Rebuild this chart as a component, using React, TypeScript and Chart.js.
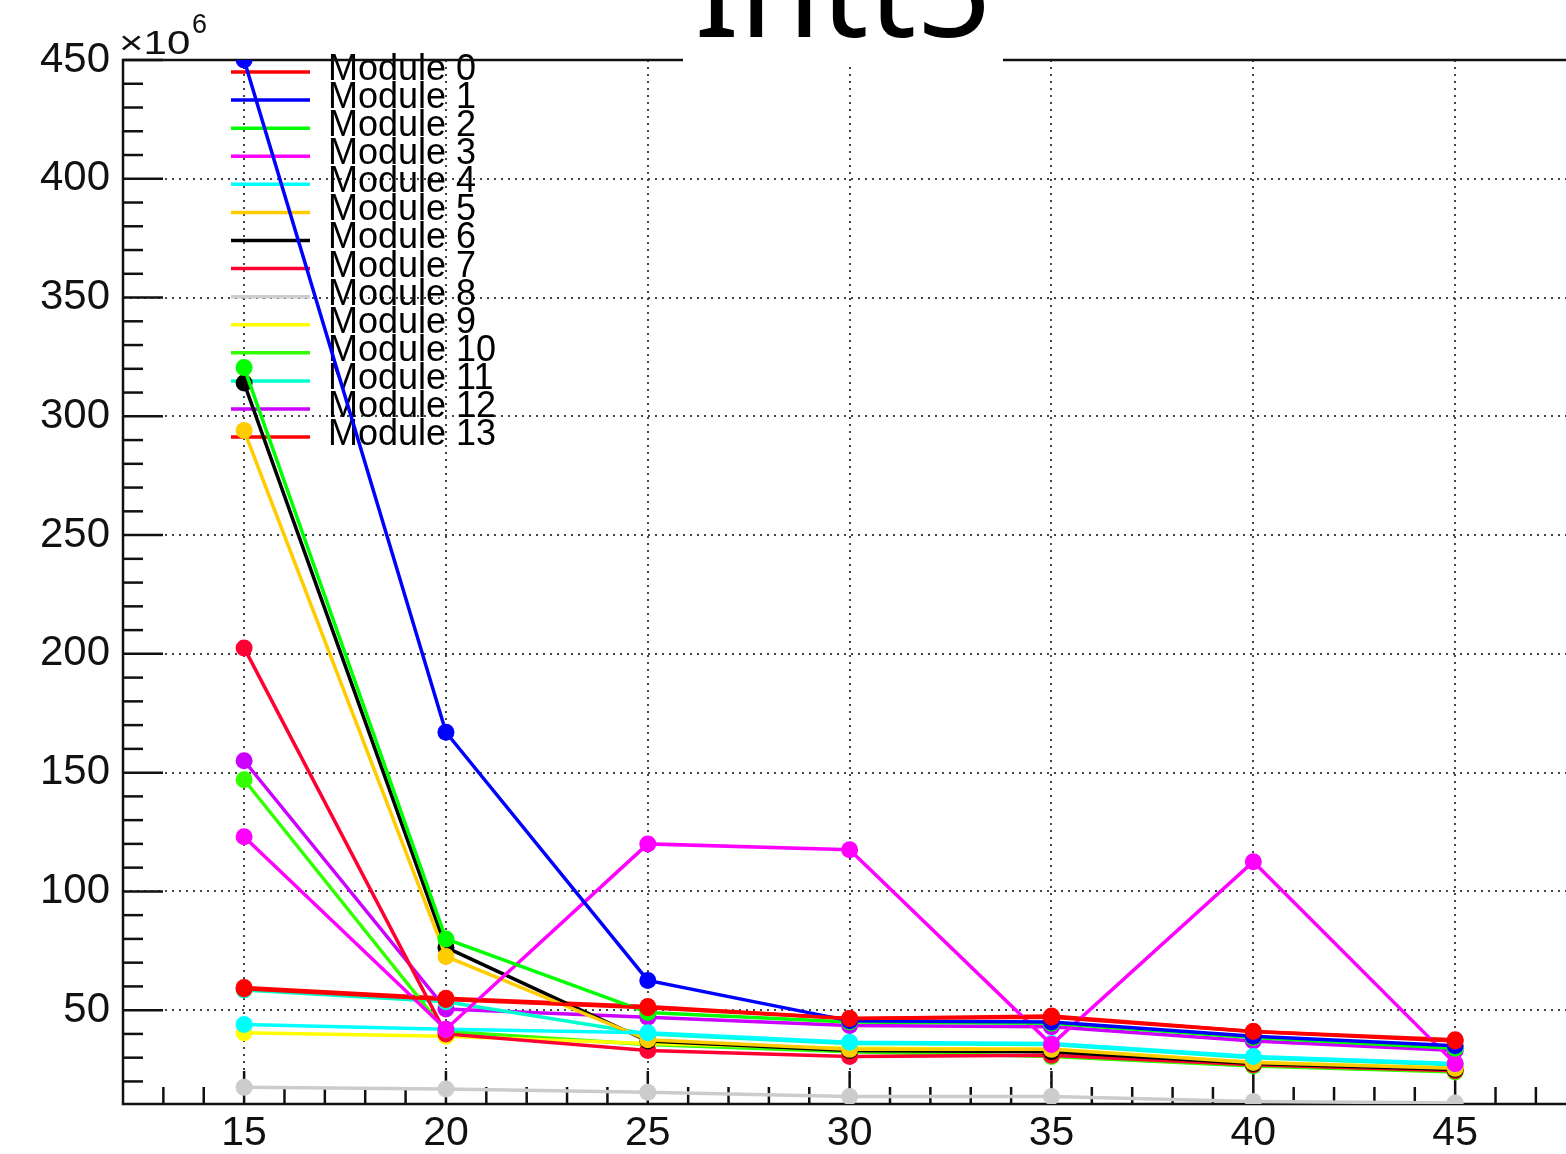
import React, { useEffect, useRef } from "react";
import { Chart, registerables } from "chart.js";

Chart.register(...registerables);

// ---- data ----
const titleText = "Intt5";
const axisMultiplier = "×10";
const axisExponent = "6";
const xValues = [15, 20, 25, 30, 35, 40, 45];
const xTickValues = [15, 20, 25, 30, 35, 40, 45];
const yTickValues = [50, 100, 150, 200, 250, 300, 350, 400, 450];

const moduleNames = [
  "Module 0", "Module 1", "Module 2", "Module 3", "Module 4", "Module 5", "Module 6",
  "Module 7", "Module 8", "Module 9", "Module 10", "Module 11", "Module 12", "Module 13",
];
const moduleColors = [
  "#ff0000", "#0000ff", "#00ff00", "#ff00ff", "#00ffff", "#ffcc00", "#000000",
  "#ff0033", "#cccccc", "#ffff00", "#33ff00", "#00ffcc", "#cc00ff", "#ff0000",
];

const module0 = [59.0, 54.5, 51.0, 46.5, 47.0, 41.0, 37.0];
const module1 = [450, 167, 62.5, 45.5, 45.0, 39.0, 35.0];
const module2 = [320.5, 80, 49.0, 45.0, 44.5, 38.5, 34.0];
const module3 = [123, 42, 120, 117.5, 35.5, 112.5, 27.5];
const module4 = [44, 42, 40.5, 36.5, 36.0, 30.5, 27.5];
const module5 = [294, 72.6, 37.5, 33.5, 33.5, 28.0, 25.5];
const module6 = [314, 76.4, 37.0, 33.0, 32.5, 27.5, 25.0];
const module7 = [202.5, 40, 33.0, 30.5, 31.0, 27.0, 24.5];
const module8 = [17.5, 16.8, 15.4, 13.7, 13.7, 11.6, 10.9];
const module9 = [40.5, 39, 36.0, 34.0, 33.5, 28.0, 25.5];
const module10 = [147, 41, 35.5, 32.5, 30.5, 26.5, 24.0];
const module11 = [58.5, 53.5, 40.0, 36.0, 35.5, 30.0, 27.0];
const module12 = [155, 50.5, 47.0, 43.5, 43.0, 37.0, 33.0];
const module13 = [59.5, 55, 51.5, 46.5, 47.5, 41.0, 37.5];

const seriesValues = [
  module0, module1, module2, module3, module4, module5, module6,
  module7, module8, module9, module10, module11, module12, module13,
];

const FONT = '"Liberation Sans", Arial, Helvetica, sans-serif';

export default function App() {
  const ref = useRef<HTMLCanvasElement>(null);

  useEffect(() => {
    document.body.style.margin = "0";
    const canvas = ref.current!;

    const framePlugin = {
      id: "rootFrame",
      beforeDatasetsDraw(chart: any) {
        const { ctx, chartArea: a, scales } = chart;
        const x = scales.x;
        const y = scales.y;
        ctx.save();
        // legend (drawn under the data)
        chart.data.datasets.forEach((ds: any, i: number) => {
          const ly = 72 + i * 28.08;
          ctx.strokeStyle = ds.borderColor;
          ctx.lineWidth = 3.5;
          ctx.beginPath();
          ctx.moveTo(231, ly);
          ctx.lineTo(310, ly);
          ctx.stroke();
          ctx.fillStyle = "#000";
          ctx.font = `36px ${FONT}`;
          ctx.textAlign = "left";
          ctx.textBaseline = "alphabetic";
          ctx.fillText(ds.label, 328, ly + 8);
        });
        // axis frame
        ctx.strokeStyle = "#111";
        ctx.lineWidth = 2.5;
        ctx.beginPath();
        ctx.moveTo(a.right, a.top);
        ctx.lineTo(a.left, a.top);
        ctx.lineTo(a.left, a.bottom);
        ctx.lineTo(a.right, a.bottom);
        ctx.stroke();
        // y ticks
        for (let v = 20; v <= 450; v += 10) {
          const p = y.getPixelForValue(v);
          const len = v % 50 === 0 ? 40 : 20;
          ctx.beginPath();
          ctx.moveTo(a.left, p);
          ctx.lineTo(a.left + len, p);
          ctx.stroke();
        }
        // x ticks
        for (let v = 13; v <= 50; v += 1) {
          const p = x.getPixelForValue(v);
          const len = v % 5 === 0 ? 33 : 17;
          ctx.beginPath();
          ctx.moveTo(p, a.bottom);
          ctx.lineTo(p, a.bottom - len);
          ctx.stroke();
        }
        // multiplier
        ctx.fillStyle = "#111";
        ctx.save();
        ctx.translate(119, 54);
        ctx.scale(1, 0.8);
        ctx.font = `42px ${FONT}`;
        ctx.textAlign = "left";
        ctx.textBaseline = "alphabetic";
        ctx.fillText(axisMultiplier, 0, 0);
        ctx.restore();
        ctx.font = `27px ${FONT}`;
        ctx.textAlign = "left";
        ctx.textBaseline = "alphabetic";
        ctx.fillText(axisExponent, 192, 33);
        ctx.restore();
      },
      afterDraw(chart: any) {
        const { ctx } = chart;
        ctx.save();
        ctx.fillStyle = "#ffffff";
        ctx.fillRect(683, 0, 320, 63);
        ctx.fillStyle = "#000";
        ctx.font = `132px "Noto Sans", "Open Sans", sans-serif`;
        ctx.textAlign = "center";
        ctx.textBaseline = "alphabetic";
        ctx.fillText(titleText, 843, 37);
        ctx.restore();
      },
    };

    const chart = new Chart(canvas, {
      type: "line",
      data: {
        datasets: seriesValues.map((vals, i) => ({
          label: moduleNames[i],
          data: vals.map((v, j) => ({ x: xValues[j], y: v })),
          borderColor: moduleColors[i],
          backgroundColor: moduleColors[i],
          pointBackgroundColor: moduleColors[i],
          pointBorderColor: moduleColors[i],
          pointBorderWidth: 0,
          pointRadius: 8.5,
          borderWidth: 3.5,
          tension: 0,
        })),
      },
      options: {
        responsive: false,
        animation: false,
        devicePixelRatio: 1,
        events: [],
        layout: { padding: { top: 60, right: 43, left: 0, bottom: 0 } },
        plugins: {
          legend: { display: false },
          title: { display: false },
          tooltip: { enabled: false },
        },
        scales: {
          x: {
            type: "linear",
            min: 12,
            max: 50,
            afterBuildTicks: (s: any) => {
              s.ticks = xTickValues.map((v) => ({ value: v }));
            },
            afterFit: (s: any) => {
              s.height = 50;
            },
            grid: { color: "#444", lineWidth: 2, drawTicks: false },
            border: { display: false, dash: [2, 5] },
            ticks: {
              font: { family: FONT, size: 41 },
              color: "#111",
              padding: 5,
              maxRotation: 0,
              autoSkip: false,
            },
          },
          y: {
            type: "linear",
            min: 10.5,
            max: 450,
            afterBuildTicks: (s: any) => {
              s.ticks = yTickValues.map((v) => ({ value: v }));
            },
            afterFit: (s: any) => {
              s.width = 123;
            },
            grid: { color: "#444", lineWidth: 2, drawTicks: false },
            border: { display: false, dash: [2, 5] },
            ticks: {
              font: { family: FONT, size: 42 },
              color: "#111",
              padding: 13,
              autoSkip: false,
            },
          },
        },
      },
      plugins: [framePlugin],
    } as any);

    return () => chart.destroy();
  }, []);

  return (
    <div
      style={{
        position: "fixed",
        left: 0,
        top: 0,
        width: 1566,
        height: 1154,
        overflow: "hidden",
        background: "#fff",
      }}
    >
      <canvas
        ref={ref}
        width={1700}
        height={1154}
        style={{ width: 1700, height: 1154, display: "block" }}
      />
    </div>
  );
}
